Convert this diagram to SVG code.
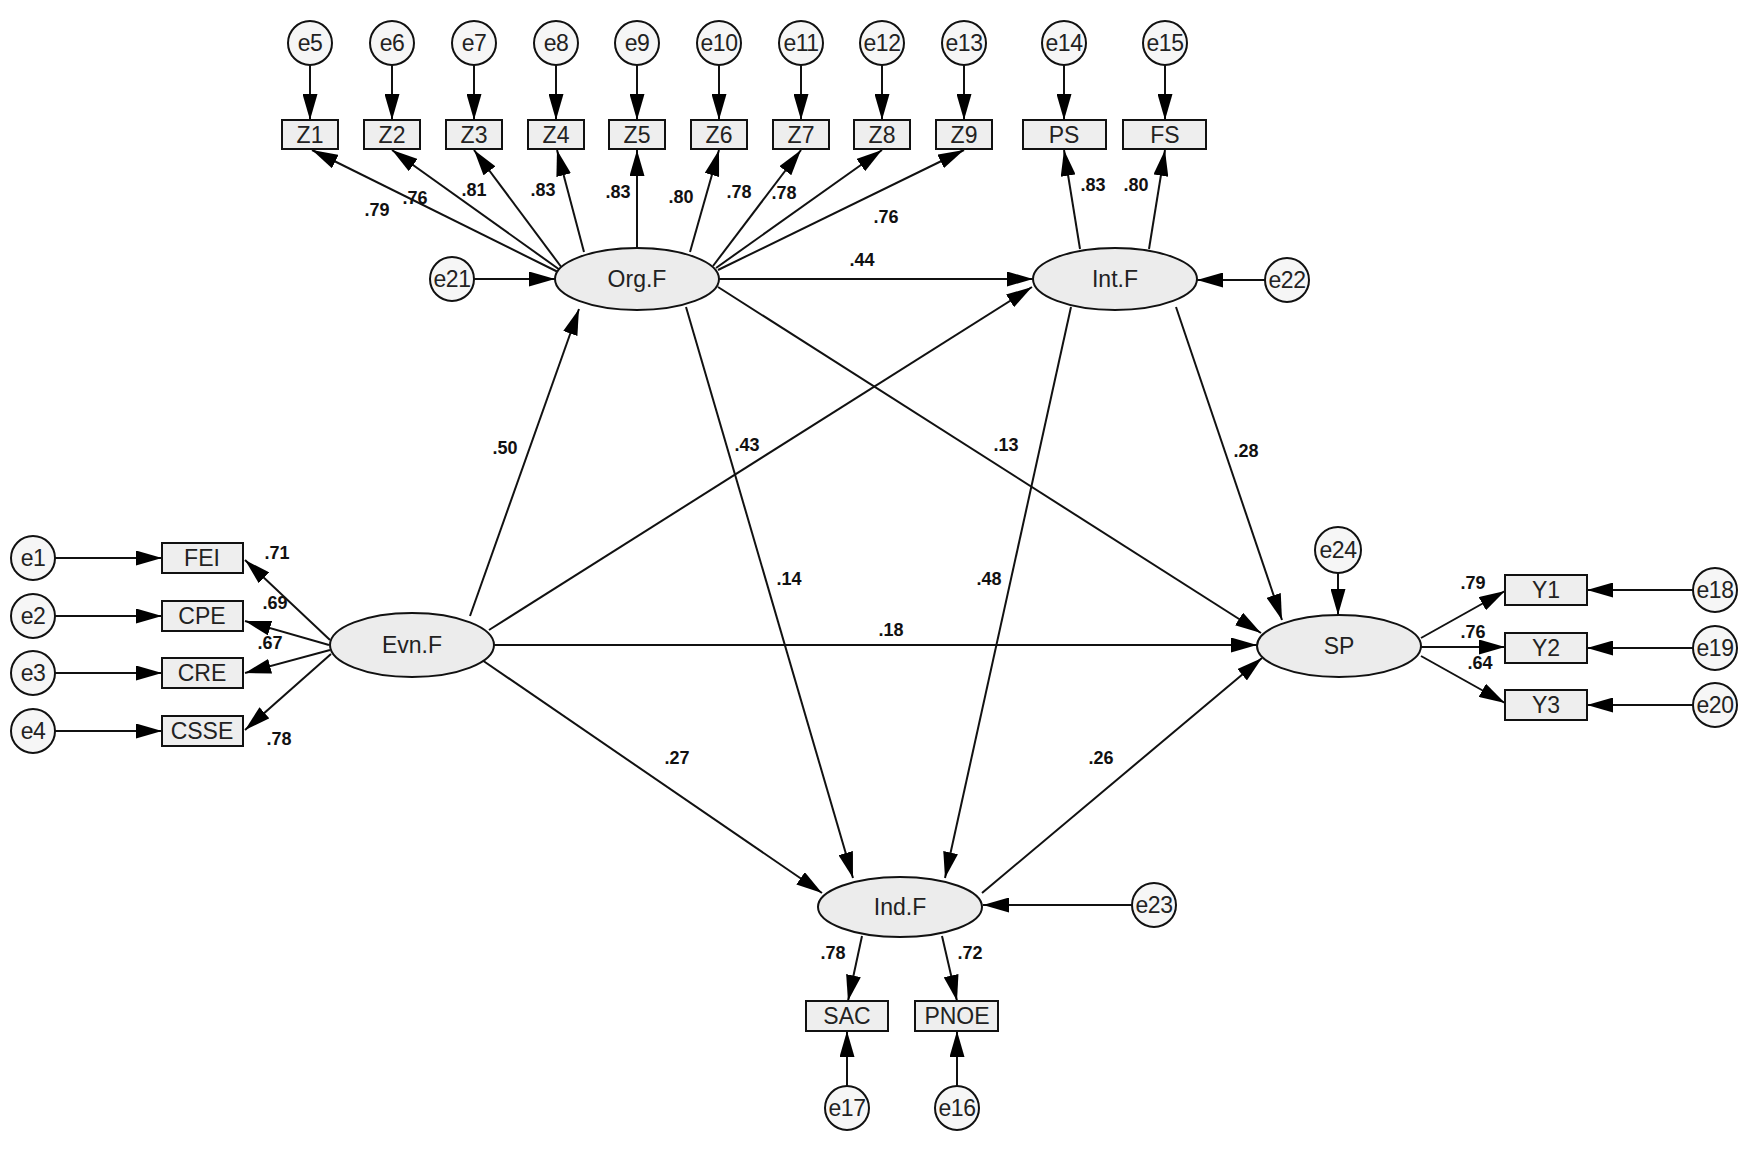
<svg xmlns="http://www.w3.org/2000/svg" width="1755" height="1149" viewBox="0 0 1755 1149">
<defs>
<marker id="ah" markerUnits="userSpaceOnUse" markerWidth="26" markerHeight="15" refX="26" refY="7.5" orient="auto">
<path d="M0,0 L26,7.5 L0,15 z" fill="#000"/>
</marker>
<style>
.c{fill:#f6f6f6;stroke:#111;stroke-width:2}
.b{fill:#eeeeee;stroke:#111;stroke-width:2}
.l{fill:#ececec;stroke:#111;stroke-width:2}
.t{font-family:"Liberation Sans",Arial,sans-serif;font-size:23px;fill:#222;text-anchor:middle;dominant-baseline:central}
.et{font-family:"Liberation Sans",Arial,sans-serif;font-size:23px;fill:#222;text-anchor:middle;dominant-baseline:central;letter-spacing:-0.5px}
.n{font-family:"Liberation Sans",Arial,sans-serif;font-size:18px;font-weight:bold;fill:#111;text-anchor:middle;dominant-baseline:central}
#conn line{stroke:#111;stroke-width:2;marker-end:url(#ah)}
</style>
</defs>
<rect width="1755" height="1149" fill="#fff"/>
<g id="conn">
<line x1="310" y1="65" x2="310" y2="120"/>
<line x1="392" y1="65" x2="392" y2="120"/>
<line x1="474" y1="65" x2="474" y2="120"/>
<line x1="556" y1="65" x2="556" y2="120"/>
<line x1="637" y1="65" x2="637" y2="120"/>
<line x1="719" y1="65" x2="719" y2="120"/>
<line x1="801" y1="65" x2="801" y2="120"/>
<line x1="882" y1="65" x2="882" y2="120"/>
<line x1="964" y1="65" x2="964" y2="120"/>
<line x1="1064" y1="65" x2="1064" y2="120"/>
<line x1="1165" y1="65" x2="1165" y2="120"/>
<line x1="558" y1="272" x2="312" y2="150"/>
<line x1="560" y1="270" x2="392" y2="150"/>
<line x1="562" y1="268" x2="474" y2="150"/>
<line x1="584" y1="252" x2="557" y2="150"/>
<line x1="637" y1="248" x2="637" y2="150"/>
<line x1="690" y1="252" x2="719" y2="150"/>
<line x1="713" y1="266" x2="801" y2="150"/>
<line x1="716" y1="268" x2="882" y2="150"/>
<line x1="718" y1="270" x2="964" y2="150"/>
<line x1="1080" y1="249" x2="1064" y2="150"/>
<line x1="1149" y1="249" x2="1165" y2="150"/>
<line x1="474" y1="279" x2="555" y2="279"/>
<line x1="1265" y1="280" x2="1197" y2="280"/>
<line x1="55" y1="558" x2="162" y2="558"/>
<line x1="55" y1="616" x2="162" y2="616"/>
<line x1="55" y1="673" x2="162" y2="673"/>
<line x1="55" y1="731" x2="162" y2="731"/>
<line x1="330" y1="640" x2="245" y2="560"/>
<line x1="329" y1="645" x2="245" y2="621"/>
<line x1="330" y1="650" x2="245" y2="673"/>
<line x1="331" y1="654" x2="245" y2="730"/>
<line x1="470" y1="616" x2="579" y2="309"/>
<line x1="489" y1="630" x2="1032" y2="287"/>
<line x1="494" y1="645" x2="1257" y2="645"/>
<line x1="482" y1="660" x2="822" y2="893"/>
<line x1="719" y1="279" x2="1033" y2="279"/>
<line x1="686" y1="307" x2="853" y2="878"/>
<line x1="718" y1="287" x2="1261" y2="633"/>
<line x1="1071" y1="307" x2="945" y2="878"/>
<line x1="1176" y1="307" x2="1282" y2="620"/>
<line x1="982" y1="893" x2="1262" y2="658"/>
<line x1="1338" y1="573" x2="1338" y2="615"/>
<line x1="1421" y1="638" x2="1505" y2="591"/>
<line x1="1421" y1="647" x2="1505" y2="647"/>
<line x1="1421" y1="656" x2="1505" y2="703"/>
<line x1="1693" y1="590" x2="1587" y2="590"/>
<line x1="1693" y1="648" x2="1587" y2="648"/>
<line x1="1693" y1="705" x2="1587" y2="705"/>
<line x1="1132" y1="905" x2="983" y2="905"/>
<line x1="862" y1="936" x2="848" y2="1001"/>
<line x1="942" y1="936" x2="957" y2="1001"/>
<line x1="847" y1="1086" x2="847" y2="1031"/>
<line x1="957" y1="1086" x2="957" y2="1031"/>
</g>
<g id="labels">
<text class="n" x="377" y="210">.79</text>
<text class="n" x="415" y="198">.76</text>
<text class="n" x="474" y="190">.81</text>
<text class="n" x="543" y="190">.83</text>
<text class="n" x="618" y="192">.83</text>
<text class="n" x="681" y="197">.80</text>
<text class="n" x="739" y="192">.78</text>
<text class="n" x="784" y="193">.78</text>
<text class="n" x="886" y="217">.76</text>
<text class="n" x="1093" y="185">.83</text>
<text class="n" x="1136" y="185">.80</text>
<text class="n" x="862" y="260">.44</text>
<text class="n" x="505" y="448">.50</text>
<text class="n" x="747" y="445">.43</text>
<text class="n" x="1006" y="445">.13</text>
<text class="n" x="1246" y="451">.28</text>
<text class="n" x="789" y="579">.14</text>
<text class="n" x="989" y="579">.48</text>
<text class="n" x="891" y="630">.18</text>
<text class="n" x="677" y="758">.27</text>
<text class="n" x="1101" y="758">.26</text>
<text class="n" x="277" y="553">.71</text>
<text class="n" x="275" y="603">.69</text>
<text class="n" x="270" y="643">.67</text>
<text class="n" x="279" y="739">.78</text>
<text class="n" x="1473" y="583">.79</text>
<text class="n" x="1473" y="632">.76</text>
<text class="n" x="1480" y="663">.64</text>
<text class="n" x="833" y="953">.78</text>
<text class="n" x="970" y="953">.72</text>
</g>
<g id="e5"><circle class="c" cx="310" cy="43" r="22"/><text class="et" x="310" y="43">e5</text></g>
<g id="e6"><circle class="c" cx="392" cy="43" r="22"/><text class="et" x="392" y="43">e6</text></g>
<g id="e7"><circle class="c" cx="474" cy="43" r="22"/><text class="et" x="474" y="43">e7</text></g>
<g id="e8"><circle class="c" cx="556" cy="43" r="22"/><text class="et" x="556" y="43">e8</text></g>
<g id="e9"><circle class="c" cx="637" cy="43" r="22"/><text class="et" x="637" y="43">e9</text></g>
<g id="e10"><circle class="c" cx="719" cy="43" r="22"/><text class="et" x="719" y="43">e10</text></g>
<g id="e11"><circle class="c" cx="801" cy="43" r="22"/><text class="et" x="801" y="43">e11</text></g>
<g id="e12"><circle class="c" cx="882" cy="43" r="22"/><text class="et" x="882" y="43">e12</text></g>
<g id="e13"><circle class="c" cx="964" cy="43" r="22"/><text class="et" x="964" y="43">e13</text></g>
<g id="e14"><circle class="c" cx="1064" cy="43" r="22"/><text class="et" x="1064" y="43">e14</text></g>
<g id="e15"><circle class="c" cx="1165" cy="43" r="22"/><text class="et" x="1165" y="43">e15</text></g>
<g id="Z1"><rect class="b" x="282" y="120" width="56" height="29"/><text class="t" x="310" y="135">Z1</text></g>
<g id="Z2"><rect class="b" x="364" y="120" width="56" height="29"/><text class="t" x="392" y="135">Z2</text></g>
<g id="Z3"><rect class="b" x="446" y="120" width="56" height="29"/><text class="t" x="474" y="135">Z3</text></g>
<g id="Z4"><rect class="b" x="528" y="120" width="56" height="29"/><text class="t" x="556" y="135">Z4</text></g>
<g id="Z5"><rect class="b" x="609" y="120" width="56" height="29"/><text class="t" x="637" y="135">Z5</text></g>
<g id="Z6"><rect class="b" x="691" y="120" width="56" height="29"/><text class="t" x="719" y="135">Z6</text></g>
<g id="Z7"><rect class="b" x="773" y="120" width="56" height="29"/><text class="t" x="801" y="135">Z7</text></g>
<g id="Z8"><rect class="b" x="854" y="120" width="56" height="29"/><text class="t" x="882" y="135">Z8</text></g>
<g id="Z9"><rect class="b" x="936" y="120" width="56" height="29"/><text class="t" x="964" y="135">Z9</text></g>
<g id="PS"><rect class="b" x="1023" y="120" width="83" height="29"/><text class="t" x="1064" y="135">PS</text></g>
<g id="FS"><rect class="b" x="1123" y="120" width="83" height="29"/><text class="t" x="1165" y="135">FS</text></g>
<g id="e21"><circle class="c" cx="452" cy="279" r="22"/><text class="et" x="452" y="279">e21</text></g>
<g id="OrgF"><ellipse class="l" cx="637" cy="279" rx="82" ry="31"/><text class="t" x="637" y="279">Org.F</text></g>
<g id="IntF"><ellipse class="l" cx="1115" cy="279" rx="82" ry="31"/><text class="t" x="1115" y="279">Int.F</text></g>
<g id="e22"><circle class="c" cx="1287" cy="280" r="22"/><text class="et" x="1287" y="280">e22</text></g>
<g id="e1"><circle class="c" cx="33" cy="558" r="22"/><text class="et" x="33" y="558">e1</text></g>
<g id="e2"><circle class="c" cx="33" cy="616" r="22"/><text class="et" x="33" y="616">e2</text></g>
<g id="e3"><circle class="c" cx="33" cy="673" r="22"/><text class="et" x="33" y="673">e3</text></g>
<g id="e4"><circle class="c" cx="33" cy="731" r="22"/><text class="et" x="33" y="731">e4</text></g>
<g id="FEI"><rect class="b" x="162" y="543" width="81" height="30"/><text class="t" x="202" y="558">FEI</text></g>
<g id="CPE"><rect class="b" x="162" y="601" width="81" height="30"/><text class="t" x="202" y="616">CPE</text></g>
<g id="CRE"><rect class="b" x="162" y="658" width="81" height="30"/><text class="t" x="202" y="673">CRE</text></g>
<g id="CSSE"><rect class="b" x="162" y="716" width="81" height="30"/><text class="t" x="202" y="731">CSSE</text></g>
<g id="EvnF"><ellipse class="l" cx="412" cy="645" rx="82" ry="32"/><text class="t" x="412" y="645">Evn.F</text></g>
<g id="e24"><circle class="c" cx="1338" cy="550" r="23"/><text class="et" x="1338" y="550">e24</text></g>
<g id="SP"><ellipse class="l" cx="1339" cy="646" rx="82" ry="31"/><text class="t" x="1339" y="646">SP</text></g>
<g id="Y1"><rect class="b" x="1505" y="575" width="82" height="30"/><text class="t" x="1546" y="590">Y1</text></g>
<g id="Y2"><rect class="b" x="1505" y="633" width="82" height="30"/><text class="t" x="1546" y="648">Y2</text></g>
<g id="Y3"><rect class="b" x="1505" y="690" width="82" height="30"/><text class="t" x="1546" y="705">Y3</text></g>
<g id="e18"><circle class="c" cx="1715" cy="590" r="22"/><text class="et" x="1715" y="590">e18</text></g>
<g id="e19"><circle class="c" cx="1715" cy="648" r="22"/><text class="et" x="1715" y="648">e19</text></g>
<g id="e20"><circle class="c" cx="1715" cy="705" r="22"/><text class="et" x="1715" y="705">e20</text></g>
<g id="IndF"><ellipse class="l" cx="900" cy="907" rx="82" ry="30"/><text class="t" x="900" y="907">Ind.F</text></g>
<g id="e23"><circle class="c" cx="1154" cy="905" r="22"/><text class="et" x="1154" y="905">e23</text></g>
<g id="SAC"><rect class="b" x="806" y="1001" width="82" height="30"/><text class="t" x="847" y="1016">SAC</text></g>
<g id="PNOE"><rect class="b" x="915" y="1001" width="83" height="30"/><text class="t" x="957" y="1016">PNOE</text></g>
<g id="e17"><circle class="c" cx="847" cy="1108" r="22"/><text class="et" x="847" y="1108">e17</text></g>
<g id="e16"><circle class="c" cx="957" cy="1108" r="22"/><text class="et" x="957" y="1108">e16</text></g>
</svg>
